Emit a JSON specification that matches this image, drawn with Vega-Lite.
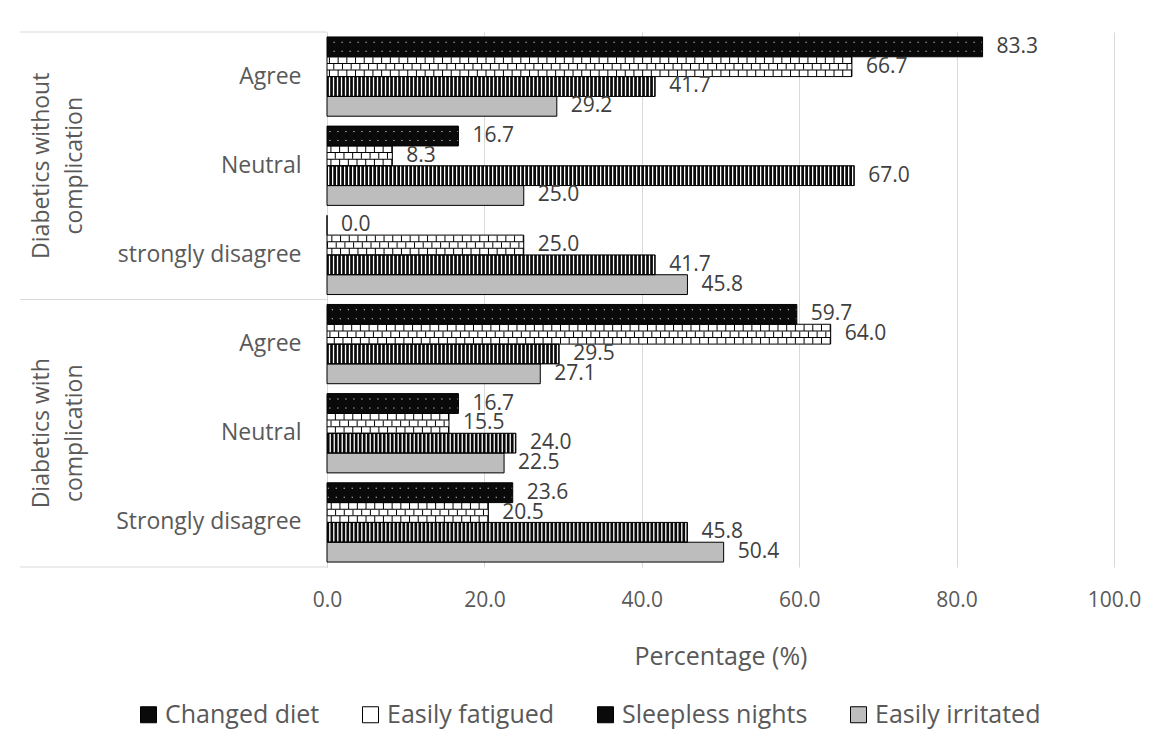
{
  "$schema": "https://vega.github.io/schema/vega-lite/v6.json",
  "width": 787,
  "height": 535,
  "autosize": {"type": "none"},
  "padding": {"left": 327, "top": 32, "right": 47, "bottom": 188},
  "background": "#ffffff",
  "config": {
    "font": "Open Sans",
    "view": {"stroke": null},
    "axis": {"labelFont": "Open Sans", "titleFont": "Open Sans"},
    "legend": {"labelFont": "Open Sans"}
  },
  "data": {
    "values": [
      {"group": "Diabetics without complication", "response": "Agree", "series": "Changed diet", "value": 83.3},
      {"group": "Diabetics without complication", "response": "Agree", "series": "Easily fatigued", "value": 66.7},
      {"group": "Diabetics without complication", "response": "Agree", "series": "Sleepless nights", "value": 41.7},
      {"group": "Diabetics without complication", "response": "Agree", "series": "Easily irritated", "value": 29.2},
      {"group": "Diabetics without complication", "response": "Neutral", "series": "Changed diet", "value": 16.7},
      {"group": "Diabetics without complication", "response": "Neutral", "series": "Easily fatigued", "value": 8.3},
      {"group": "Diabetics without complication", "response": "Neutral", "series": "Sleepless nights", "value": 67.0},
      {"group": "Diabetics without complication", "response": "Neutral", "series": "Easily irritated", "value": 25.0},
      {"group": "Diabetics without complication", "response": "strongly disagree", "series": "Changed diet", "value": 0.0},
      {"group": "Diabetics without complication", "response": "strongly disagree", "series": "Easily fatigued", "value": 25.0},
      {"group": "Diabetics without complication", "response": "strongly disagree", "series": "Sleepless nights", "value": 41.7},
      {"group": "Diabetics without complication", "response": "strongly disagree", "series": "Easily irritated", "value": 45.8},
      {"group": "Diabetics with complication", "response": "Agree", "series": "Changed diet", "value": 59.7},
      {"group": "Diabetics with complication", "response": "Agree", "series": "Easily fatigued", "value": 64.0},
      {"group": "Diabetics with complication", "response": "Agree", "series": "Sleepless nights", "value": 29.5},
      {"group": "Diabetics with complication", "response": "Agree", "series": "Easily irritated", "value": 27.1},
      {"group": "Diabetics with complication", "response": "Neutral", "series": "Changed diet", "value": 16.7},
      {"group": "Diabetics with complication", "response": "Neutral", "series": "Easily fatigued", "value": 15.5},
      {"group": "Diabetics with complication", "response": "Neutral", "series": "Sleepless nights", "value": 24.0},
      {"group": "Diabetics with complication", "response": "Neutral", "series": "Easily irritated", "value": 22.5},
      {"group": "Diabetics with complication", "response": "Strongly disagree", "series": "Changed diet", "value": 23.6},
      {"group": "Diabetics with complication", "response": "Strongly disagree", "series": "Easily fatigued", "value": 20.5},
      {"group": "Diabetics with complication", "response": "Strongly disagree", "series": "Sleepless nights", "value": 45.8},
      {"group": "Diabetics with complication", "response": "Strongly disagree", "series": "Easily irritated", "value": 50.4}
    ]
  },
  "transform": [
    {"calculate": "datum.group + '|' + datum.response", "as": "key"}
  ],
  "encoding": {
    "y": {
      "field": "key",
      "type": "nominal",
      "sort": [
        "Diabetics without complication|Agree",
        "Diabetics without complication|Neutral",
        "Diabetics without complication|strongly disagree",
        "Diabetics with complication|Agree",
        "Diabetics with complication|Neutral",
        "Diabetics with complication|Strongly disagree"
      ],
      "scale": {"paddingInner": 0, "paddingOuter": 0},
      "axis": {
        "title": null,
        "labelExpr": "split(datum.label, '|')[1]",
        "labelFontSize": 23,
        "labelColor": "#595959",
        "labelPadding": 26,
        "labelLimit": 400,
        "ticks": false,
        "domainColor": "#d9d9d9",
        "domainWidth": 1
      }
    }
  },
  "layer": [
    {
      "mark": {"type": "bar"},
      "encoding": {
        "x": {
          "field": "value",
          "type": "quantitative",
          "scale": {"domain": [0, 100]},
          "axis": {
            "title": "Percentage (%)",
            "titleFontSize": 25,
            "titleFontWeight": "normal",
            "titleColor": "#595959",
            "titlePadding": 34,
            "values": [0, 20, 40, 60, 80, 100],
            "format": ".1f",
            "labelFontSize": 21,
            "labelColor": "#595959",
            "labelPadding": 22,
            "labelFlush": false,
            "ticks": false,
            "domain": false,
            "grid": true,
            "gridColor": "#d9d9d9",
            "gridWidth": 1
          }
        },
        "yOffset": {
          "field": "series",
          "type": "nominal",
          "sort": ["Changed diet", "Easily fatigued", "Sleepless nights", "Easily irritated"],
          "scale": {"domain": ["Changed diet", "Easily fatigued", "Sleepless nights", "Easily irritated"], "paddingInner": 0, "paddingOuter": 0.25}
        },
        "fill": {
          "field": "series",
          "type": "nominal",
          "sort": ["Changed diet", "Easily fatigued", "Sleepless nights", "Easily irritated"],
          "scale": {
            "domain": ["Changed diet", "Easily fatigued", "Sleepless nights", "Easily irritated"],
            "range": ["#0a0a0a", "#ffffff", "#0a0a0a", "#bdbdbd"]
          },
          "legend": {
            "title": null,
            "orient": "none",
            "direction": "horizontal",
            "legendX": -191,
            "legendY": 670,
            "padding": 0,
            "symbolType": "square",
            "symbolSize": 256,
            "symbolStrokeColor": "#000000",
            "symbolStrokeWidth": 1,
            "labelFontSize": 25,
            "labelColor": "#595959",
            "labelOffset": 4,
            "labelLimit": 400,
            "columnPadding": 38
          }
        }
      }
    },
    {
      "transform": [{"filter": "datum.series === 'Changed diet'"}],
      "mark": {"type": "rule", "stroke": "#ffffff", "strokeWidth": 10, "strokeDash": [1, 7]},
      "encoding": {
        "x": {"field": "value", "type": "quantitative"},
        "x2": {"datum": 0},
        "yOffset": {"field": "series", "type": "nominal", "sort": ["Changed diet", "Easily fatigued", "Sleepless nights", "Easily irritated"]}
      }
    },
    {
      "transform": [{"filter": "datum.series === 'Changed diet'"}],
      "mark": {"type": "rule", "stroke": "#0a0a0a", "strokeWidth": 8},
      "encoding": {
        "x": {"field": "value", "type": "quantitative"},
        "x2": {"datum": 0},
        "yOffset": {"field": "series", "type": "nominal", "sort": ["Changed diet", "Easily fatigued", "Sleepless nights", "Easily irritated"]}
      }
    },
    {
      "transform": [{"filter": "datum.series === 'Easily fatigued'"}],
      "mark": {"type": "rule", "stroke": "#000000", "strokeWidth": 19, "strokeDash": [1, 7.7]},
      "encoding": {
        "x": {"field": "value", "type": "quantitative"},
        "x2": {"datum": 0},
        "yOffset": {"field": "series", "type": "nominal", "sort": ["Changed diet", "Easily fatigued", "Sleepless nights", "Easily irritated"]}
      }
    },
    {
      "transform": [{"filter": "datum.series === 'Easily fatigued'"}],
      "mark": {"type": "rule", "stroke": "#000000", "strokeWidth": 7.6},
      "encoding": {
        "x": {"field": "value", "type": "quantitative"},
        "x2": {"datum": 0},
        "yOffset": {"field": "series", "type": "nominal", "sort": ["Changed diet", "Easily fatigued", "Sleepless nights", "Easily irritated"]}
      }
    },
    {
      "transform": [{"filter": "datum.series === 'Easily fatigued'"}],
      "mark": {"type": "rule", "stroke": "#ffffff", "strokeWidth": 5.6},
      "encoding": {
        "x": {"field": "value", "type": "quantitative"},
        "x2": {"datum": 0},
        "yOffset": {"field": "series", "type": "nominal", "sort": ["Changed diet", "Easily fatigued", "Sleepless nights", "Easily irritated"]}
      }
    },
    {
      "transform": [{"filter": "datum.series === 'Easily fatigued'"}],
      "mark": {"type": "rule", "stroke": "#000000", "strokeWidth": 5.6, "strokeDash": [1, 7.7], "strokeDashOffset": 4.35},
      "encoding": {
        "x": {"field": "value", "type": "quantitative"},
        "x2": {"datum": 0},
        "yOffset": {"field": "series", "type": "nominal", "sort": ["Changed diet", "Easily fatigued", "Sleepless nights", "Easily irritated"]}
      }
    },
    {
      "transform": [{"filter": "datum.series === 'Sleepless nights'"}],
      "mark": {"type": "rule", "stroke": "#ffffff", "strokeWidth": 19, "strokeDash": [1.3, 2.7], "strokeDashOffset": 3},
      "encoding": {
        "x": {"field": "value", "type": "quantitative"},
        "x2": {"datum": 0},
        "yOffset": {"field": "series", "type": "nominal", "sort": ["Changed diet", "Easily fatigued", "Sleepless nights", "Easily irritated"]}
      }
    },
    {
      "mark": {"type": "bar", "fillOpacity": 0, "stroke": "#000000", "strokeWidth": 1},
      "encoding": {
        "x": {"field": "value", "type": "quantitative"},
        "yOffset": {"field": "series", "type": "nominal", "sort": ["Changed diet", "Easily fatigued", "Sleepless nights", "Easily irritated"]}
      }
    },
    {
      "mark": {"type": "text", "align": "left", "baseline": "middle", "dx": 14, "fontSize": 21, "color": "#404040"},
      "encoding": {
        "x": {"field": "value", "type": "quantitative"},
        "yOffset": {"field": "series", "type": "nominal", "sort": ["Changed diet", "Easily fatigued", "Sleepless nights", "Easily irritated"]},
        "text": {"field": "value", "type": "quantitative", "format": ".1f"}
      }
    },
    {
      "transform": [
        {"filter": "datum.response === 'Neutral' && datum.series === 'Changed diet'"},
        {"calculate": "replace(datum.group, ' complication', '\\ncomplication')", "as": "groupLabel"}
      ],
      "mark": {"type": "text", "angle": 270, "align": "center", "baseline": "middle", "lineBreak": "\n", "lineHeight": 33, "fontSize": 23, "color": "#595959"},
      "encoding": {
        "x": {"datum": -36.2, "type": "quantitative"},
        "text": {"field": "groupLabel", "type": "nominal"}
      }
    },
    {
      "transform": [{"filter": "datum.response === 'Agree' && datum.series === 'Changed diet'"}],
      "mark": {"type": "rule", "stroke": "#d9d9d9", "strokeWidth": 1},
      "encoding": {
        "x": {"datum": -39, "type": "quantitative"},
        "x2": {"datum": 0},
        "y": {"field": "key", "type": "nominal", "bandPosition": 0}
      }
    },
    {
      "transform": [{"filter": "datum.response === 'Strongly disagree' && datum.series === 'Changed diet'"}],
      "mark": {"type": "rule", "stroke": "#d9d9d9", "strokeWidth": 1},
      "encoding": {
        "x": {"datum": -39, "type": "quantitative"},
        "x2": {"datum": 0},
        "y": {"field": "key", "type": "nominal", "bandPosition": 1}
      }
    }
  ]
}
